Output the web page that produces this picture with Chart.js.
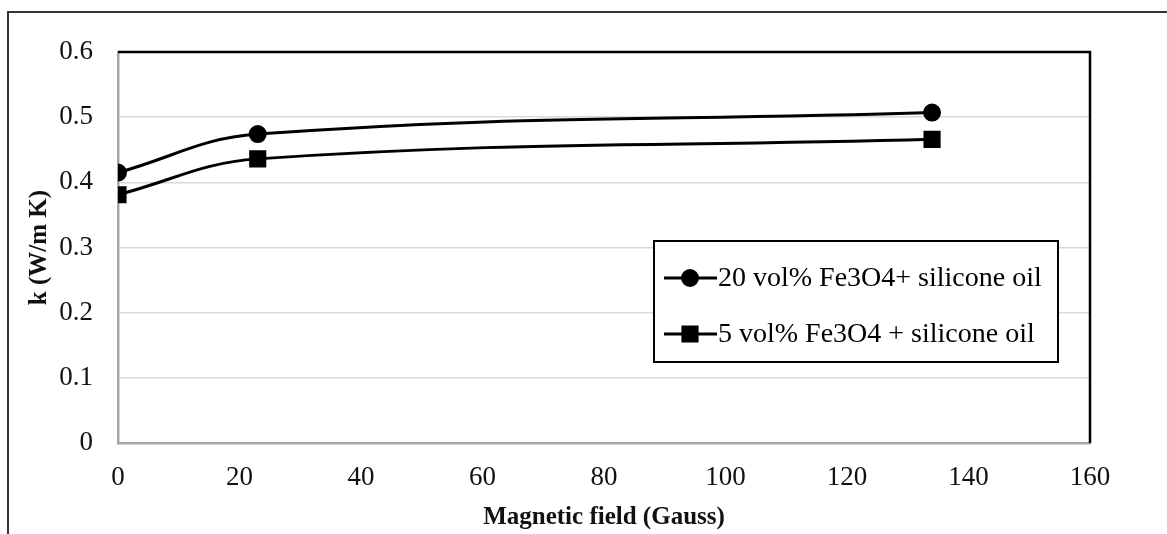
<!DOCTYPE html>
<html>
<head>
<meta charset="utf-8">
<script src="https://cdn.jsdelivr.net/npm/chart.js@4/dist/chart.umd.min.js"></script>
<style>
  html, body { margin: 0; padding: 0; background: #fff; }
  #wrap { width: 1167px; height: 534px; }
</style>
</head>
<body>
<div id="wrap"><canvas id="kChart" width="1167" height="534"></canvas></div>
<script>
const fieldGauss = [0, 23, 134];
const k20vol = [0.415, 0.474, 0.507];
const k5vol = [0.381, 0.436, 0.466];
const seriesNames = ["20 vol% Fe3O4+ silicone oil", "5 vol% Fe3O4 + silicone oil"];
const xTicks = [0, 20, 40, 60, 80, 100, 120, 140, 160];
const yTicks = [0, 0.1, 0.2, 0.3, 0.4, 0.5, 0.6];

const serif = "'Liberation Serif', 'Times New Roman', serif";

function toPoints(xs, ys) {
  return xs.map(function (x, i) { return { x: x, y: ys[i] }; });
}

// frame, black top/right plot border and the boxed legend
const figureExtras = {
  id: "figureExtras",
  afterDraw: function (chart) {
    const ctx = chart.ctx;
    const a = chart.chartArea;
    ctx.save();
    ctx.strokeStyle = "#333";
    ctx.lineWidth = 2;
    ctx.beginPath();
    ctx.moveTo(8, 534);
    ctx.lineTo(8, 12);
    ctx.lineTo(1167, 12);
    ctx.stroke();

    ctx.strokeStyle = "#000";
    ctx.lineWidth = 2.5;
    ctx.beginPath();
    ctx.moveTo(a.left, a.top);
    ctx.lineTo(a.right, a.top);
    ctx.lineTo(a.right, a.bottom);
    ctx.stroke();

    // legend box
    const box = { x: 654, y: 241, w: 404, h: 121 };
    ctx.fillStyle = "#fff";
    ctx.fillRect(box.x, box.y, box.w, box.h);
    ctx.strokeStyle = "#000";
    ctx.lineWidth = 2;
    ctx.strokeRect(box.x, box.y, box.w, box.h);

    const rows = [278, 334];
    ctx.font = "28px " + serif;
    ctx.textBaseline = "middle";
    chart.data.datasets.forEach(function (ds, i) {
      const y = rows[i];
      ctx.strokeStyle = "#000";
      ctx.lineWidth = 3;
      ctx.beginPath();
      ctx.moveTo(664, y);
      ctx.lineTo(717, y);
      ctx.stroke();
      Chart.helpers.drawPoint(ctx, {
        pointStyle: ds.pointStyle,
        radius: ds.pointRadius,
        borderWidth: 1
      }, 690, y);
      ctx.fillStyle = "#000";
      ctx.fill();
      ctx.fillText(ds.label, 718, y + 1);
    });
    ctx.restore();
  }
};

new Chart(document.getElementById("kChart").getContext("2d"), {
  type: "line",
  data: {
    datasets: [
      {
        label: seriesNames[0],
        data: toPoints(fieldGauss, k20vol),
        borderColor: "#000",
        backgroundColor: "#000",
        borderWidth: 3,
        pointStyle: "circle",
        pointRadius: 7.5,
        tension: 0.4
      },
      {
        label: seriesNames[1],
        data: toPoints(fieldGauss, k5vol),
        borderColor: "#000",
        backgroundColor: "#000",
        borderWidth: 3,
        pointStyle: "rect",
        pointRadius: 10,
        tension: 0.4
      }
    ]
  },
  options: {
    responsive: false,
    animation: false,
    layout: { padding: { left: 0, top: 52, right: 77, bottom: 0 } },
    plugins: { legend: { display: false }, tooltip: { enabled: false } },
    scales: {
      x: {
        type: "linear",
        min: 0,
        max: 160,
        afterBuildTicks: function (axis) {
          axis.ticks = xTicks.map(function (v) { return { value: v }; });
        },
        afterFit: function (axis) { axis.height = 91; },
        grid: { display: false, drawTicks: false },
        border: { display: true, color: "#a6a6a6", width: 2.5 },
        ticks: { color: "#111", padding: 19, maxRotation: 0, font: { family: serif, size: 27 } },
        title: {
          display: true,
          text: "Magnetic field (Gauss)",
          color: "#111",
          padding: { top: 0, bottom: 1 },
          font: { family: serif, size: 25, weight: "bold" }
        }
      },
      y: {
        min: 0,
        max: 0.6,
        afterBuildTicks: function (axis) {
          axis.ticks = yTicks.map(function (v) { return { value: v }; });
        },
        afterFit: function (axis) { axis.width = 118; },
        grid: { color: "#d9d9d9", lineWidth: 1.5, drawTicks: false },
        border: { display: true, color: "#a6a6a6", width: 2.5 },
        ticks: {
          color: "#111",
          padding: 25,
          font: { family: serif, size: 27 },
          callback: function (v) { return String(Math.round(v * 10) / 10); }
        },
        title: {
          display: true,
          text: "k (W/m K)",
          color: "#111",
          padding: { top: 25, bottom: 0 },
          font: { family: serif, size: 25, weight: "bold" }
        }
      }
    }
  },
  plugins: [figureExtras]
});
</script>
</body>
</html>
